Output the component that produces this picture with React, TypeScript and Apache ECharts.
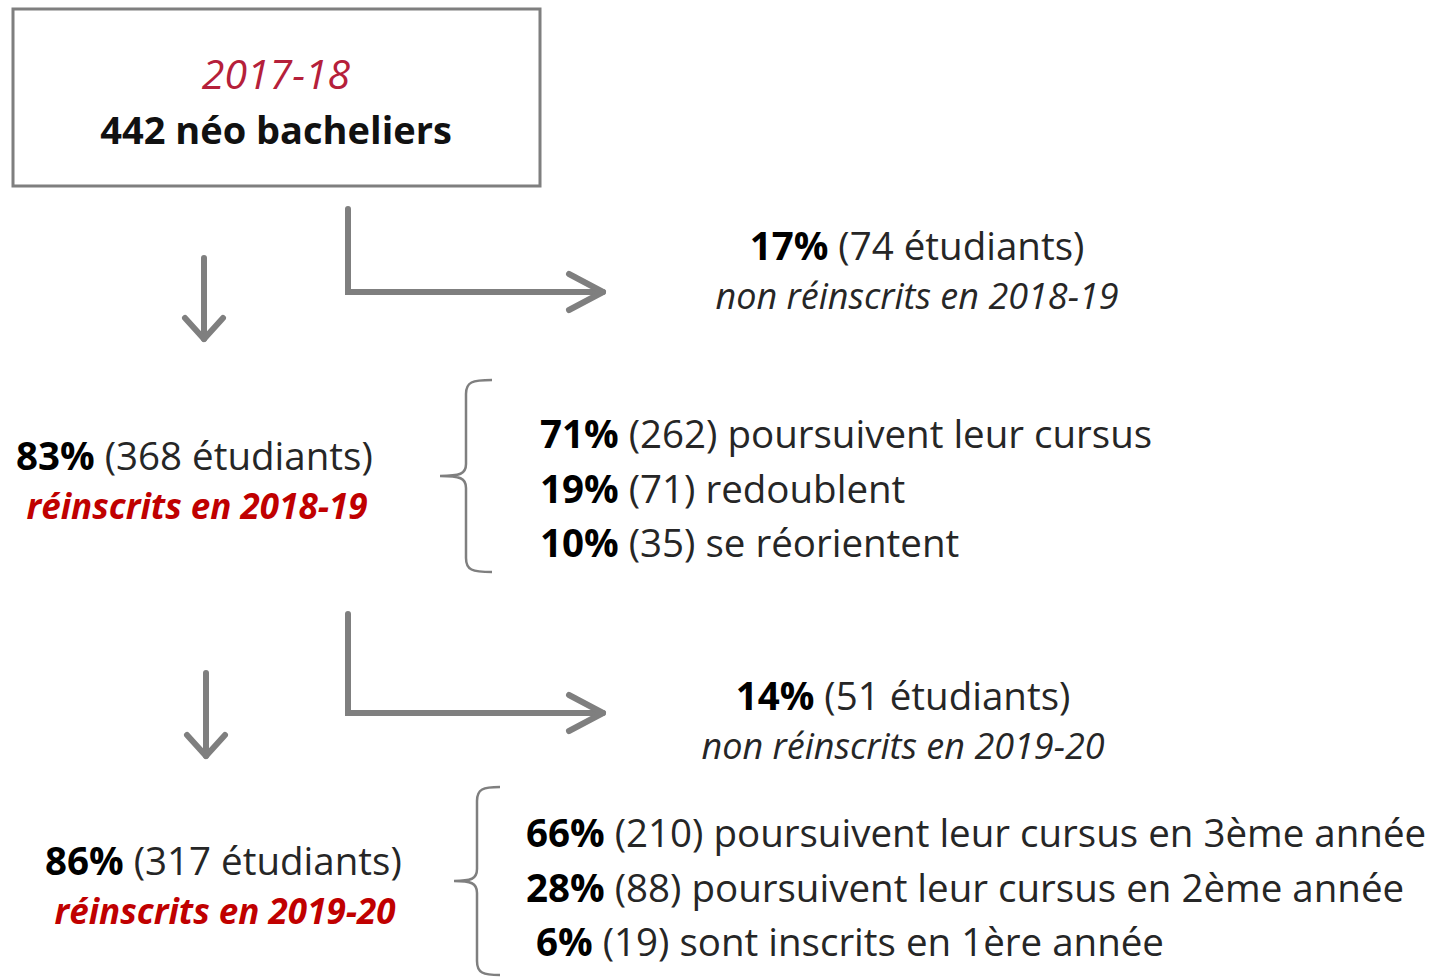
import React, { useEffect, useRef } from "react";
import * as echarts from "echarts";

const FONT = "'Open Sans', sans-serif";
const GRAY = "#7f7f7f";
const TEXT = "#262626";
const RED = "#c00000";
const CRIMSON = "#b5203a";

const startYear = "2017-18";
const startCount = "442 néo bacheliers";

const leftPct = ["83%", "86%"];
const leftCount = ["(368 étudiants)", "(317 étudiants)"];
const leftLabel = ["réinscrits en 2018-19", "réinscrits en 2019-20"];
const outPct = ["17%", "14%"];
const outCount = ["(74 étudiants)", "(51 étudiants)"];
const outLabel = ["non réinscrits en 2018-19", "non réinscrits en 2019-20"];
const detail1Pct = ["71%", "19%", "10%"];
const detail1Txt = ["(262) poursuivent leur cursus", "(71) redoublent", "(35) se réorientent"];
const detail2Pct = ["66%", "28%", "6%"];
const detail2Txt = [
  "(210) poursuivent leur cursus en 3ème année",
  "(88) poursuivent leur cursus en 2ème année",
  "(19) sont inscrits en 1ère année",
];

function braceD(h: number, w: number): string {
  const m = h / 2;
  const mx = w * 0.5;
  return [
    `M ${w} 0`,
    `C ${mx + 6} 0 ${mx} 2 ${mx} 14`,
    `L ${mx} ${m - 12}`,
    `C ${mx} ${m - 2} ${mx - 6} ${m} 0 ${m}`,
    `C ${mx - 6} ${m} ${mx} ${m + 2} ${mx} ${m + 12}`,
    `L ${mx} ${h - 14}`,
    `C ${mx} ${h - 2} ${mx + 6} ${h} ${w} ${h}`,
  ].join(" ");
}

export default function App() {
  const ref = useRef<HTMLDivElement>(null);
  useEffect(() => {
    if (!ref.current) return;
    const chart = echarts.init(ref.current, null, { renderer: "svg" });
    const FS = 38.5;
    const rich = {
      b: { fontFamily: FONT, fontSize: FS, fontWeight: "bold", fill: "#000" },
      n: { fontFamily: FONT, fontSize: FS, fill: TEXT },
    };
    const richText = (x: number, y: number, pct: string, txt: string, align: string) => ({
      type: "text",
      x,
      y,
      style: { text: `{b|${pct}}{n| ${txt}}`, rich, textAlign: align, textVerticalAlign: "middle" },
    });
    const plainText = (x: number, y: number, t: string, align: string, s: any) => ({
      type: "text",
      x,
      y,
      style: { text: t, textAlign: align, textVerticalAlign: "middle", fontFamily: FONT, ...s },
    });
    const line = (x1: number, y1: number, x2: number, y2: number) => ({
      type: "line",
      shape: { x1, y1, x2, y2 },
      style: { stroke: GRAY, lineWidth: 6, lineCap: "round" },
    });
    const downArrow = (x: number, y1: number, y2: number) => [
      line(x, y1, x, y2),
      { type: "polyline", shape: { points: [[x - 19, y2 - 21], [x, y2], [x + 19, y2 - 21]] }, style: { stroke: GRAY, lineWidth: 6, lineCap: "round", lineJoin: "round", fill: null } },
    ];
    const lArrow = (x: number, y1: number, y2: number, x2: number) => [
      { type: "polyline", shape: { points: [[x, y1], [x, y2], [x2, y2]] }, style: { stroke: GRAY, lineWidth: 6, lineCap: "round", lineJoin: "miter", fill: null } },
      { type: "polyline", shape: { points: [[x2 - 34, y2 - 18], [x2, y2], [x2 - 34, y2 + 18]] }, style: { stroke: GRAY, lineWidth: 6, lineCap: "round", lineJoin: "round", fill: null } },
    ];
    echarts.graphic.registerShape("brace1", echarts.graphic.extendPath(braceD(192, 52), {}) as any);
    echarts.graphic.registerShape("brace2", echarts.graphic.extendPath(braceD(188, 46), {}) as any);

    const elements: any[] = [
      { type: "rect", shape: { x: 13, y: 9, width: 527, height: 177 }, style: { fill: "#fff", stroke: GRAY, lineWidth: 3 } },
      plainText(276, 73, startYear, "center", { fontSize: 41, fontStyle: "italic", fill: CRIMSON }),
      plainText(276, 129, startCount, "center", { fontSize: 38, fontWeight: "bold", fill: "#111" }),
      ...downArrow(204, 258, 339),
      ...lArrow(348, 209, 292, 603),
      richText(917, 245, outPct[0], outCount[0], "center"),
      plainText(917, 295, outLabel[0], "center", { fontSize: 36, fontStyle: "italic", fill: TEXT }),
      richText(16, 455, leftPct[0], leftCount[0], "left"),
      plainText(197, 505, leftLabel[0], "center", { fontSize: 35, fontStyle: "italic", fontWeight: "bold", fill: RED }),
      { type: "brace1", x: 440, y: 380, style: { stroke: GRAY, lineWidth: 2.5, fill: null } },
      ...detail1Pct.map((p, i) => richText(540, 433 + i * 54.5, p, detail1Txt[i], "left")),
      ...downArrow(206, 673, 756),
      ...lArrow(348, 614, 713, 603),
      richText(903, 695, outPct[1], outCount[1], "center"),
      plainText(903, 745, outLabel[1], "center", { fontSize: 36, fontStyle: "italic", fill: TEXT }),
      richText(45, 860, leftPct[1], leftCount[1], "left"),
      plainText(225, 910, leftLabel[1], "center", { fontSize: 35, fontStyle: "italic", fontWeight: "bold", fill: RED }),
      { type: "brace2", x: 454, y: 787, style: { stroke: GRAY, lineWidth: 2.5, fill: null } },
      ...detail2Pct.map((p, i) => richText(i === 2 ? 536 : 526, 832 + i * 54.5, p, detail2Txt[i], "left")),
    ];
    chart.setOption({ animation: false, backgroundColor: "#fff", graphic: { elements } });
    return () => chart.dispose();
  }, []);
  return <div ref={ref} style={{ position: "absolute", left: 0, top: 0, width: 1433, height: 977 }} />;
}
